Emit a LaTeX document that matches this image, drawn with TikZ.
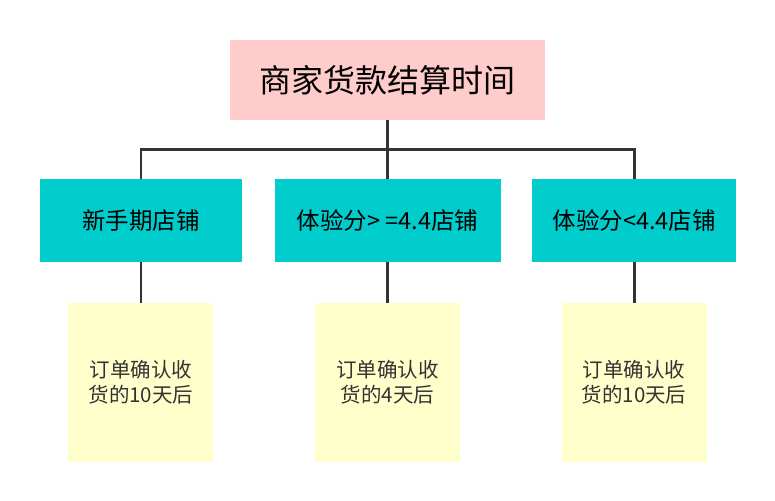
\documentclass[tikz,border=0pt]{standalone}
\usepackage{fontspec}
\setmainfont{Noto Sans CJK SC}
\definecolor{rootpink}{HTML}{FFCCCC}
\definecolor{shopcyan}{HTML}{00CCCC}
\definecolor{notelemon}{HTML}{FFFFCC}
\definecolor{wire}{HTML}{333333}
\begin{document}
\begin{tikzpicture}[x=1pt,y=1pt,
  every node/.style = {shape=rectangle, align=center, inner sep=0pt},
  rootbox/.style = {fill=rootpink, minimum width=315pt, minimum height=80pt,
    font=\fontsize{32}{38}\selectfont},
  shopbox/.style = {fill=shopcyan, minimum height=83pt,
    font=\fontsize{23.5}{28}\selectfont},
  notebox/.style = {fill=notelemon, minimum width=145pt, minimum height=159pt,
    text=wire, font=\fontsize{20.5}{25}\selectfont},
  edge from parent/.style = {draw=wire, line width=2.8pt},
  level 1/.style = {level distance=140.5pt, sibling distance=246.6pt,
    edge from parent path={(\tikzparentnode.south) -- ++(0,-29)
      -| (\tikzchildnode.north)}},
  level 2/.style = {level distance=162pt,
    edge from parent path={(\tikzparentnode.south) -- (\tikzchildnode.north)}}]
  \useasboundingbox (0,0) rectangle (775,-500);
  \node[rootbox] (root) at (387.5,-80) {商家货款结算时间}
    child { node[shopbox, minimum width=202pt] (newshop) {新手期店铺}
      child { node[notebox] (newnote) {订单确认收\\货的10天后} } }
    child { node[shopbox, minimum width=226pt] (highshop) {体验分> =4.4店铺}
      child { node[notebox] (highnote) {订单确认收\\货的4天后} } }
    child { node[shopbox, minimum width=204pt] (lowshop) {体验分<4.4店铺}
      child { node[notebox] (lownote) {订单确认收\\货的10天后} } };
\end{tikzpicture}
\end{document}
